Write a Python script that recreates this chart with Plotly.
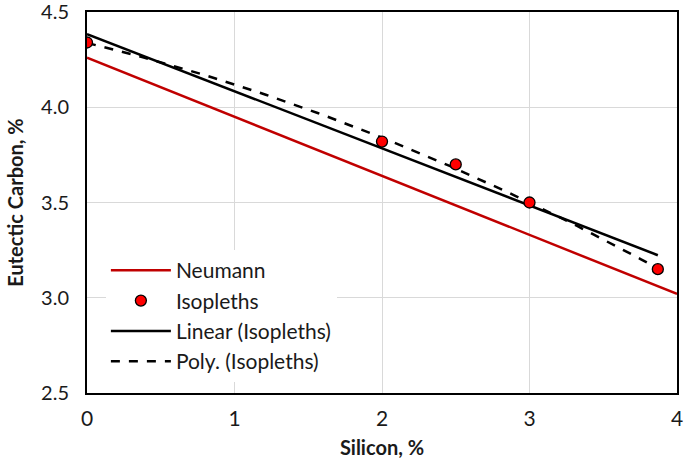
import numpy as np
import plotly.graph_objects as go

# Data
neumann_si = [0.0, 4.0]
neumann_c = [4.26, 3.02]
iso_si = [0.0, 2.0, 2.5, 3.0, 3.87]
iso_c = [4.34, 3.82, 3.70, 3.50, 3.15]
x_ticks = [0, 1, 2, 3, 4]
y_ticks = [2.5, 3.0, 3.5, 4.0, 4.5]
y_tick_text = ["2.5", "3.0", "3.5", "4.0", "4.5"]

# Trendlines (as Excel computes them from the data)
lin = np.polyfit(iso_si, iso_c, 1)
poly = np.polyfit(iso_si, iso_c, 2)
xs = np.linspace(min(iso_si), max(iso_si), 100)

FONT = "Lato"
TXT = "#1a1a1a"
fig = go.Figure()
fig.add_trace(go.Scatter(x=neumann_si, y=neumann_c, mode="lines", name="Neumann", legendrank=1,
                         line=dict(color="#C00000", width=2.5)))
fig.add_trace(go.Scatter(x=xs, y=np.polyval(lin, xs), mode="lines", name="Linear (Isopleths)", legendrank=3,
                         line=dict(color="black", width=2.5)))
fig.add_trace(go.Scatter(x=xs, y=np.polyval(poly, xs), mode="lines", name="Poly. (Isopleths)", legendrank=4,
                         line=dict(color="black", width=2.5, dash="dash")))
fig.add_trace(go.Scatter(x=iso_si, y=iso_c, mode="markers", name="Isopleths", legendrank=2,
                         marker=dict(color="#FF0000", size=11, line=dict(color="black", width=1.3))))

fig.update_layout(
    width=685, height=463,
    margin=dict(l=87, r=8, t=12, b=70),
    paper_bgcolor="white", plot_bgcolor="white",
    font=dict(family=FONT, size=21, color=TXT),
    showlegend=True,
    legend=dict(x=0.032, y=0.375, xanchor="left", yanchor="top",
                bgcolor="white", font=dict(size=21, family=FONT, color=TXT),
                traceorder="normal", tracegroupgap=0, itemwidth=60),
    xaxis=dict(range=[0, 4], tickvals=x_ticks, showgrid=True, gridcolor="#D9D9D9", gridwidth=1,
               showline=True, linecolor="black", linewidth=2, mirror=True, zeroline=False,
               ticks="", tickfont=dict(size=21, family=FONT, color=TXT), automargin=False,
               ticklabeloverflow="allow", ticklabelstandoff=6,
               title=dict(text="<b>Silicon, %</b>", font=dict(size=20, family=FONT, color=TXT), standoff=12)),
    yaxis=dict(range=[2.5, 4.5], tickvals=y_ticks, ticktext=y_tick_text, showgrid=True, gridcolor="#D9D9D9",
               gridwidth=1, showline=True, linecolor="black", linewidth=2, mirror=True, zeroline=False,
               ticks="", tickfont=dict(size=20, family=FONT, color=TXT), automargin=False,
               ticklabeloverflow="allow", ticklabelstandoff=12,
               title=dict(text="<b>Eutectic Carbon, %</b>", font=dict(size=20, family=FONT, color=TXT), standoff=12)),
)

fig.write_html("out.html", config={"displayModeBar": False},
               post_script="document.body.style.margin='0px';")
